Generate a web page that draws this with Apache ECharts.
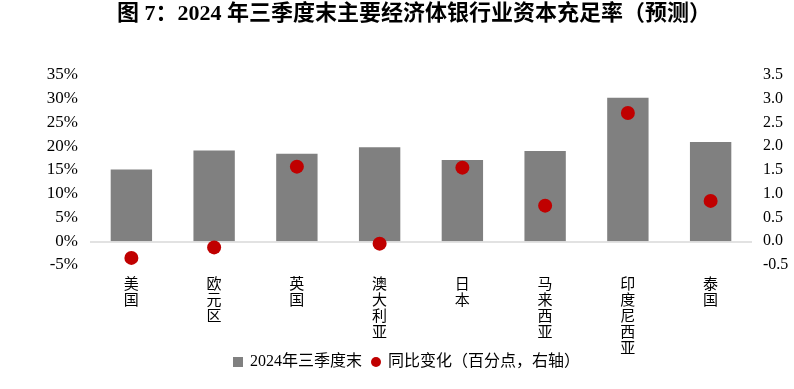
<!DOCTYPE html>
<html><head><meta charset="utf-8">
<script src="https://cdn.jsdelivr.net/npm/echarts@6/dist/echarts.min.js"></script>
<style>html,body{margin:0;padding:0;background:#fff}#c{width:794px;height:389px}</style>
</head><body><div id="c"></div>
<script>
const categories = ['美国','欧元区','英国','澳大利亚','日本','马来西亚','印度尼西亚','泰国'];
const ratio2024Q3 = [15.1, 19.1, 18.4, 19.8, 17.1, 19.0, 30.2, 20.9];
const yoyChange = [-0.35, -0.13, 1.57, -0.05, 1.55, 0.75, 2.70, 0.85];
const leftTicks = [-5, 0, 5, 10, 15, 20, 25, 30, 35];
const rightTicks = [-0.5, 0, 0.5, 1, 1.5, 2, 2.5, 3, 3.5];

const FONT = '"Liberation Serif","Noto Sans CJK SC",serif';
const chart = echarts.init(document.getElementById('c'), null, {renderer:'canvas'});
chart.setOption({
  animation: false,
  title: {
    text: '图 7：2024 年三季度末主要经济体银行业资本充足率（预测）',
    left: 112, top: -2,
    textStyle: {fontFamily: FONT, fontWeight: 'bold', fontSize: 22, color: '#000'}
  },
  legend: {
    bottom: 14, left: 228, itemGap: 9, itemWidth: 10, itemHeight: 10,
    textStyle: {fontFamily: FONT, fontSize: 16, color: '#000', padding: [0, 0, 0, 2]},
    data: [{name: '2024年三季度末', icon: 'rect'}, {name: '同比变化（百分点，右轴）', icon: 'circle'}]
  },
  grid: {left: 90, right: 42, top: 75, bottom: 124},
  xAxis: {
    type: 'category', data: categories,
    axisLine: {show: false}, axisTick: {show: false},
    axisLabel: {
      margin: 12, fontFamily: FONT, fontSize: 15, color: '#000', lineHeight: 16,
      verticalAlign: 'top',
      formatter: v => v.split('').join('\n')
    }
  },
  yAxis: [{
    type: 'value', min: leftTicks[0], max: leftTicks[leftTicks.length-1], interval: 5,
    axisLine: {show: false}, axisTick: {show: false}, splitLine: {show: false},
    axisLabel: {fontFamily: FONT, fontSize: 17, color: '#000', margin: 12, formatter: v => v + '%'}
  }, {
    type: 'value', min: rightTicks[0], max: rightTicks[rightTicks.length-1], interval: 0.5,
    axisLine: {show: false}, axisTick: {show: false}, splitLine: {show: false},
    axisLabel: {fontFamily: FONT, fontSize: 16, color: '#000', margin: 11, formatter: v => v.toFixed(1)}
  }],
  series: [{
    name: '2024年三季度末', type: 'bar', data: ratio2024Q3, barWidth: '50%',
    itemStyle: {color: '#808080'},
    markLine: {
      silent: true, symbol: 'none', label: {show: false},
      lineStyle: {color: '#d9d9d9', width: 1.5, type: 'solid'},
      data: [{yAxis: 0}]
    }
  }, {
    name: '同比变化（百分点，右轴）', type: 'scatter', yAxisIndex: 1, data: yoyChange,
    symbolSize: 14, itemStyle: {color: '#c00000', opacity: 1}, z: 5
  }]
});
</script></body></html>
